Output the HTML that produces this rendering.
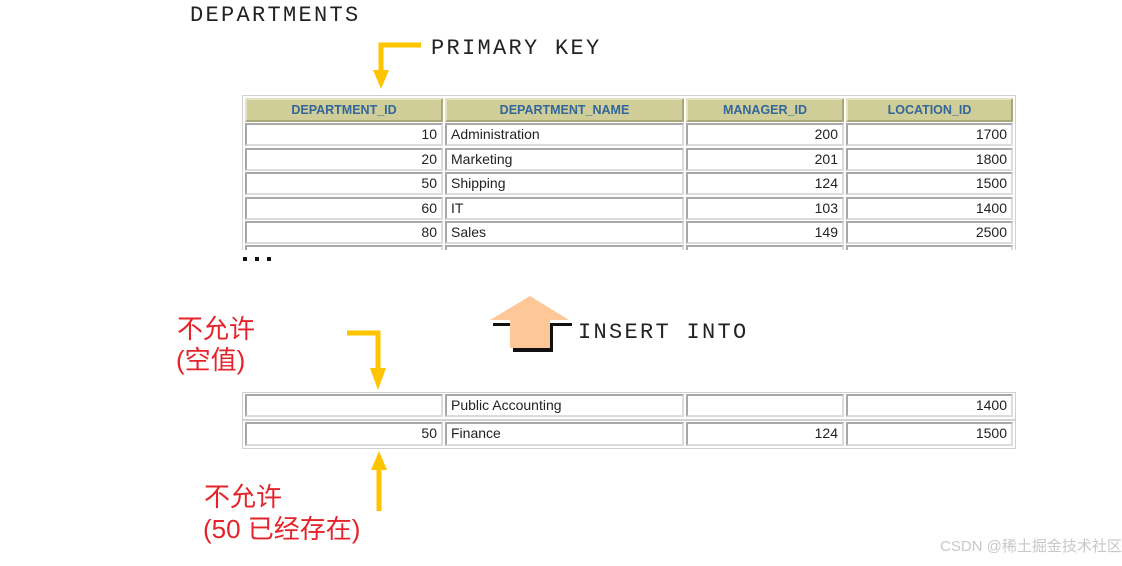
<!DOCTYPE html>
<html><head><meta charset="utf-8"><style>
body{margin:0;width:1122px;height:566px;background:#fff;position:relative;overflow:hidden;font-family:"Liberation Sans",sans-serif}
.a{position:absolute}
.mono{font-family:"Liberation Mono",monospace;font-size:22px;letter-spacing:2.3px;color:#222;white-space:nowrap}
.c{position:absolute;box-sizing:border-box;border:2px solid;border-color:#a8a8a8 #dcdcdc #dcdcdc #a8a8a8;background:#fff;font-size:14px;color:#222;line-height:18px;padding:0 4px;white-space:nowrap;overflow:hidden}
.r{text-align:right}
.h{background:#cfcd98;border-color:#e4e2c0 #a9a77a #a9a77a #e4e2c0;color:#33669a;font-weight:bold;font-size:12.5px;text-align:center;line-height:20px}
.red{color:#e5232a;font-family:"Liberation Sans","Noto Sans CJK SC",sans-serif;font-size:26px;white-space:nowrap;line-height:30px}
.frame{position:absolute;border:1px solid #d0d0d0;box-sizing:border-box}
</style></head><body>
<div class="a mono" style="left:190px;top:3px">DEPARTMENTS</div>
<div class="a mono" style="left:431px;top:36px">PRIMARY KEY</div>
<div class="a mono" style="left:578px;top:320px">INSERT INTO</div>

<div class="frame" style="left:242px;top:95px;width:774px;height:155px;border-bottom:none"></div>
<div class="c h" style="left:245px;top:98px;width:198px;height:24px">DEPARTMENT_ID</div>
<div class="c h" style="left:445px;top:98px;width:239px;height:24px">DEPARTMENT_NAME</div>
<div class="c h" style="left:686px;top:98px;width:158px;height:24px">MANAGER_ID</div>
<div class="c h" style="left:846px;top:98px;width:167px;height:24px">LOCATION_ID</div>

<div class="c r" style="left:245px;top:123px;width:198px;height:23px">10</div>
<div class="c" style="left:445px;top:123px;width:239px;height:23px">Administration</div>
<div class="c r" style="left:686px;top:123px;width:158px;height:23px">200</div>
<div class="c r" style="left:846px;top:123px;width:167px;height:23px">1700</div>

<div class="c r" style="left:245px;top:148px;width:198px;height:23px">20</div>
<div class="c" style="left:445px;top:148px;width:239px;height:23px">Marketing</div>
<div class="c r" style="left:686px;top:148px;width:158px;height:23px">201</div>
<div class="c r" style="left:846px;top:148px;width:167px;height:23px">1800</div>

<div class="c r" style="left:245px;top:172px;width:198px;height:23px">50</div>
<div class="c" style="left:445px;top:172px;width:239px;height:23px">Shipping</div>
<div class="c r" style="left:686px;top:172px;width:158px;height:23px">124</div>
<div class="c r" style="left:846px;top:172px;width:167px;height:23px">1500</div>

<div class="c r" style="left:245px;top:197px;width:198px;height:23px">60</div>
<div class="c" style="left:445px;top:197px;width:239px;height:23px">IT</div>
<div class="c r" style="left:686px;top:197px;width:158px;height:23px">103</div>
<div class="c r" style="left:846px;top:197px;width:167px;height:23px">1400</div>

<div class="c r" style="left:245px;top:221px;width:198px;height:23px">80</div>
<div class="c" style="left:445px;top:221px;width:239px;height:23px">Sales</div>
<div class="c r" style="left:686px;top:221px;width:158px;height:23px">149</div>
<div class="c r" style="left:846px;top:221px;width:167px;height:23px">2500</div>
<div class="c" style="left:245px;top:245px;width:198px;height:5px;border-bottom:none"></div>
<div class="c" style="left:445px;top:245px;width:239px;height:5px;border-bottom:none"></div>
<div class="c" style="left:686px;top:245px;width:158px;height:5px;border-bottom:none"></div>
<div class="c" style="left:846px;top:245px;width:167px;height:5px;border-bottom:none"></div>

<div class="a" style="left:243px;top:257px;width:4px;height:4px;background:#111"></div>
<div class="a" style="left:255px;top:257px;width:4px;height:4px;background:#111"></div>
<div class="a" style="left:267px;top:257px;width:4px;height:4px;background:#111"></div>

<div class="frame" style="left:242px;top:392px;width:774px;height:28px"></div>
<div class="c" style="left:245px;top:394px;width:198px;height:23px"></div>
<div class="c" style="left:445px;top:394px;width:239px;height:23px">Public Accounting</div>
<div class="c" style="left:686px;top:394px;width:158px;height:23px"></div>
<div class="c r" style="left:846px;top:394px;width:167px;height:23px">1400</div>

<div class="frame" style="left:242px;top:420px;width:774px;height:29px"></div>
<div class="c r" style="left:245px;top:422px;width:198px;height:24px">50</div>
<div class="c" style="left:445px;top:422px;width:239px;height:24px">Finance</div>
<div class="c r" style="left:686px;top:422px;width:158px;height:24px">124</div>
<div class="c r" style="left:846px;top:422px;width:167px;height:24px">1500</div>

<div class="a red" style="left:177px;top:314px">不允许</div>
<div class="a red" style="left:176px;top:345px">(空值)</div>
<div class="a red" style="left:204px;top:482px">不允许</div>
<div class="a red" style="left:203px;top:514px">(50 已经存在)</div>

<svg class="a" style="left:0;top:0" width="1122" height="566">
 <g fill="none" stroke="#ffc400" stroke-width="5">
  <polyline points="421,45 381,45 381,74"/>
  <polyline points="347,333 378,333 378,372"/>
  <line x1="379" y1="466" x2="379" y2="511"/>
 </g>
 <g fill="#ffc400">
  <polygon points="373,70 389,70 381,89"/>
  <polygon points="370,368 386,368 378,390"/>
  <polygon points="371,470 387,470 379,451"/>
 </g>
 <polygon points="493,323 572,323 572,326 553,326 553,352 513,352 513,326 493,326" fill="#111"/>
 <polygon points="530,296 569,320 550,320 550,348 510,348 510,320 490,320" fill="#fdc797"/>
</svg>
<div class="a" style="left:940px;top:535px;font-size:15px;color:#c8c8c8;font-family:'Liberation Sans','Noto Sans CJK SC',sans-serif">CSDN @稀土掘金技术社区</div>
</body></html>
